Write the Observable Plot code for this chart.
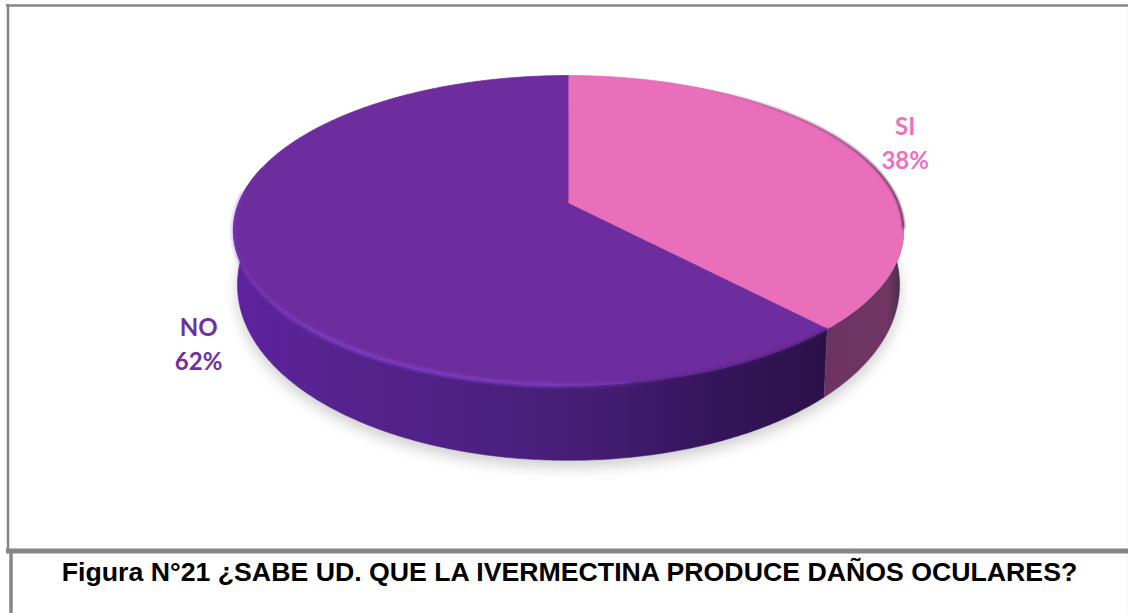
<!DOCTYPE html>
<html lang="es">
<head>
<meta charset="utf-8">
<script src="https://cdn.jsdelivr.net/npm/d3@7"></script>
<script src="https://cdn.jsdelivr.net/npm/@observablehq/plot@0.6"></script>
<style>html,body{margin:0;padding:0;background:#fff;overflow:hidden}svg{display:block}</style>
</head>
<body>
<div id="chart"></div>
<script>
// Data
const categories = ["SI", "NO"];
const shares = [38, 62];
const faceColors = ["#e96fbb", "#6e2d9e"];
const labelColors = ["#ee70bf", "#7030a0"];
const captionText = "Figura N°21 ¿SABE UD. QUE LA IVERMECTINA PRODUCE DAÑOS OCULARES?";

// Page and tilted-disc projection
const W = 1128, H = 613;
const cx = 568, apexY = 203, A = 330, k = 0.174, b = -114.9;
const project = (theta, r = 1) => {
  const u = r * Math.sin(theta), v = r * Math.cos(theta), w = 1 + k * v;
  return {x: cx + A * u / w, y: (apexY + b * v) / w, v};
};
const lower = (p) => ({x: cx + (p.x - cx) * 0.988, y: p.y + 50 - 25 * p.v});

const total = d3.sum(shares);
const edges = d3.cumsum([0, ...shares]).map((s) => (s / total) * 2 * Math.PI);
const arc = (a0, a1) => {
  const n = Math.max(2, Math.ceil(Math.abs(a1 - a0) * 90));
  return d3.range(n + 1).map((i) => project(a0 + (a1 - a0) * i / n));
};
const splitAngle = edges[1];
const apex = project(0, 0);

const topFaces = categories.map((c, i) => [apex, ...arc(edges[i], edges[i + 1])]);
const sideBand = (a0, a1) => {
  const top = arc(a0, a1);
  return [...top, ...top.map(lower).reverse()];
};
const sideSI = sideBand(Math.PI * 0.42, splitAngle);
const sideNO = sideBand(splitAngle, Math.PI * 1.58);
const outline = arc(0, 2 * Math.PI).map(lower);
const frontRim = arc(Math.PI * 0.92, Math.PI * 1.52);
const rightEdge = arc(splitAngle, Math.PI * 0.95);
const darkRim = arc(Math.PI * 0.12, Math.PI * 0.55);

const labelRadius = 1.15;
const labelDx = [8, 11];
const labelDy = [-3.5, 70];
const labelData = categories.map((c, i) => {
  const p = project((edges[i] + edges[i + 1]) / 2, labelRadius);
  return {x: p.x + labelDx[i], y: p.y + labelDy[i], text: `${c}\n${shares[i]}%`, color: labelColors[i]};
});

const rule = "#868686";
const chart = Plot.plot({
  width: W, height: H, margin: 0,
  x: {domain: [0, W], range: [0, W], axis: null},
  y: {domain: [0, H], range: [0, H], axis: null},
  style: {background: "#fff"},
  marks: [
    // page frame
    Plot.ruleX([1127.5], {y1: 0, y2: H, stroke: "#eeeeee", strokeWidth: 1}),
    Plot.ruleY([5], {x1: 6, x2: W, stroke: rule, strokeWidth: 2.5}),
    Plot.ruleX([7.5], {y1: 4, y2: 553, stroke: rule, strokeWidth: 2.5}),
    Plot.ruleY([550.5], {x1: 6, x2: W, stroke: rule, strokeWidth: 5}),
    Plot.ruleX([10.5], {y1: 550, y2: H, stroke: rule, strokeWidth: 3.5}),
    // soft shadow
    Plot.line(outline.map((p) => ({x: p.x, y: p.y + 7})), {x: "x", y: "y", fill: "#cfcfcf", stroke: "none", imageFilter: "blur(7px)"}),
    // sides
    Plot.line(sideNO, {x: "x", y: "y", fill: "url(#sideNO)", stroke: "url(#sideNO)", strokeWidth: 0.5}),
    Plot.line(sideSI, {x: "x", y: "y", fill: "url(#sideSI)", stroke: "url(#sideSI)", strokeWidth: 0.5}),
    // top faces
    ...topFaces.map((pts, i) => Plot.line(pts, {x: "x", y: "y", fill: faceColors[i], stroke: faceColors[i], strokeWidth: 0.8})),
    // rim lighting
    Plot.line(darkRim, {x: "x", y: "y", stroke: "url(#darkRim)", strokeWidth: 2, imageFilter: "blur(0.8px)"}),
    Plot.line(frontRim, {x: "x", y: "y", stroke: "url(#rim)", strokeWidth: 4.5, imageFilter: "blur(1.8px)"}),
    Plot.line(rightEdge, {x: "x", y: "y", stroke: "#4d2078", strokeWidth: 2.5, strokeOpacity: 0.7, imageFilter: "blur(1.5px)"}),
    // labels
    Plot.text(labelData, {x: "x", y: "y", text: "text", fill: "color", fontSize: 24, fontWeight: 700, fontFamily: "Lato", lineHeight: 1.42, textAnchor: "middle"}),
    // caption
    Plot.text([captionText], {x: [569], y: [571.5], fill: "#000", fontSize: 26.7, fontWeight: 700, fontFamily: "Liberation Sans", textAnchor: "middle"})
  ]
});

// gradients referenced by the marks above
const defs = d3.select(chart).insert("defs", ":first-child");
const gradient = (id, x1, x2, stops) => {
  const g = defs.append("linearGradient").attr("id", id).attr("gradientUnits", "userSpaceOnUse")
    .attr("x1", x1).attr("x2", x2).attr("y1", 0).attr("y2", 0);
  stops.forEach(([o, c, a = 1]) => g.append("stop").attr("offset", o).attr("stop-color", c).attr("stop-opacity", a));
};
gradient("sideNO", 233, 827, [[0, "#5f22a0"], [0.15, "#57238f"], [0.45, "#4b2080"], [0.62, "#441c70"], [0.8, "#35155c"], [1, "#2c1048"]]);
gradient("sideSI", 822, 903, [[0, "#6c3362"], [0.8, "#703765"], [1, "#3e2a45"]]);
gradient("rim", 233, 680, [[0, "#7d3fc4", 0.3], [0.2, "#7d3fc4", 0.9], [0.7, "#7d3fc4", 0.8], [1, "#7d3fc4", 0]]);
gradient("darkRim", 700, 903, [[0, "#7a3f6e", 0], [0.6, "#7a3f6e", 0.7], [1, "#4a2a4a", 1]]);

document.getElementById("chart").append(chart);
</script>
</body>
</html>
